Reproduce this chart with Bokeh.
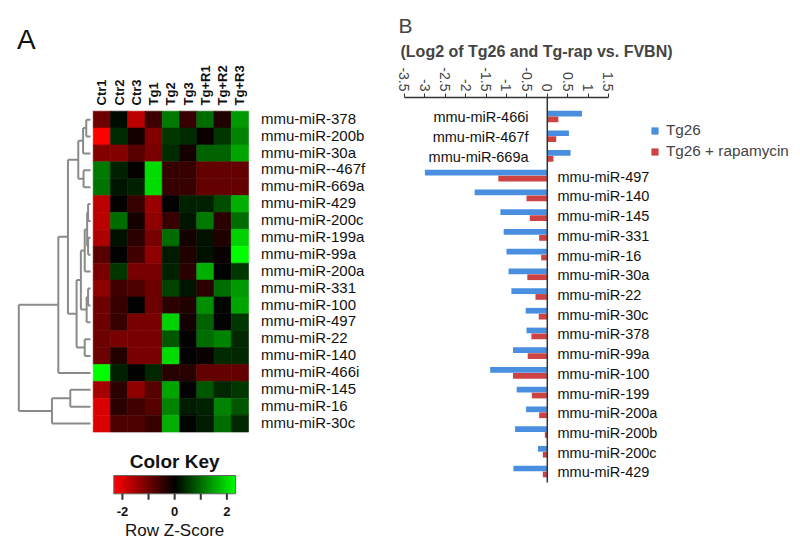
import numpy as np
from bokeh.plotting import figure
from bokeh.models import (Range1d, LinearColorMapper, LinearAxis, FixedTicker, Title,
                          Legend, LegendItem, ColumnDataSource)
from bokeh.transform import transform
from bokeh.layouts import row, column
from bokeh.embed import file_html
from bokeh.resources import INLINE
from bokeh.core.properties import value

FONT = value("Liberation Sans")

# ---------------- data: heatmap (panel A) ----------------
samples = ["Ctr1", "Ctr2", "Ctr3", "Tg1", "Tg2", "Tg3", "Tg+R1", "Tg+R2", "Tg+R3"]
heat_mirs = ["mmu-miR-378", "mmu-miR-200b", "mmu-miR-30a", "mmu-miR--467f", "mmu-miR-669a",
             "mmu-miR-429", "mmu-miR-200c", "mmu-miR-199a", "mmu-miR-99a", "mmu-miR-200a",
             "mmu-miR-331", "mmu-miR-100", "mmu-miR-497", "mmu-miR-22", "mmu-miR-140",
             "mmu-miR-466i", "mmu-miR-145", "mmu-miR-16", "mmu-miR-30c"]
z_378 = [-1.0, 0.1, -1.7, -0.55, 1.1, -0.5, 1.0, -0.3, 1.4]
z_200b = [-2.3, 0.4, -0.2, -1.2, 0.5, 0.4, -0.1, 0.5, 1.2]
z_30a = [-1.2, -1.2, -0.8, -1.1, 0.4, -0.2, 0.9, 0.9, 1.5]
z_467f = [1.1, 0.3, -0.05, 2.0, -0.5, -0.5, -0.9, -0.9, -0.9]
z_669a = [1.05, 0.2, 0.3, 2.0, -0.5, -0.5, -0.9, -0.9, -0.9]
z_429 = [-1.7, -0.05, -0.5, -1.4, 0.0, 0.3, 0.3, 0.7, 1.6]
z_200c = [-1.7, 1.0, -0.2, -1.3, -0.5, 0.2, 1.1, -0.4, 1.0]
z_199a = [-1.6, 0.15, -0.4, -1.1, 1.0, -0.2, 0.15, -0.3, 1.9]
z_99a = [-0.8, 0.0, -0.6, -1.3, 0.25, -0.3, 0.15, -0.1, 2.3]
z_200a = [-1.1, 0.5, -1.1, -1.1, 0.3, -0.4, 1.6, 0.0, 0.5]
z_331 = [-1.3, -0.6, -0.7, -1.0, 0.6, 0.2, -0.4, 1.0, 1.4]
z_100 = [-1.0, -0.5, 0.0, -1.0, -0.4, -0.3, 1.3, 0.05, 1.5]
z_497 = [-1.0, -0.5, -1.1, -1.1, 1.9, -0.2, 0.9, 0.0, 0.5]
z_22 = [-1.0, -1.1, -1.1, -1.1, 0.8, 0.0, 1.0, 1.2, 0.35]
z_140 = [-1.0, -0.3, -1.1, -1.1, 2.0, 0.0, -0.1, 0.4, 0.35]
z_466i = [2.3, 0.3, 0.0, 0.35, -0.35, -0.35, -0.9, -0.9, -0.9]
z_145 = [-1.5, -0.4, -1.3, -0.8, 1.5, 0.0, 0.8, 0.35, 0.5]
z_16 = [-2.0, -0.4, -0.6, -0.8, 1.2, 0.25, 0.3, 1.2, 0.8]
z_30c = [-2.0, -0.7, -0.7, -0.5, 1.6, 0.05, 0.25, 1.0, 0.35]
zscores = [z_378, z_200b, z_30a, z_467f, z_669a, z_429, z_200c, z_199a, z_99a, z_200a,
           z_331, z_100, z_497, z_22, z_140, z_466i, z_145, z_16, z_30c]

# dendrogram merges: (left, right, height)
dendro_merges = [
    ("mmu-miR-378", "mmu-miR-200b", 4.4),     # n0
    ("n0", "mmu-miR-30a", 7.7),               # n1
    ("mmu-miR--467f", "mmu-miR-669a", 7.2),   # n2
    ("n1", "n2", 12.7),                       # n3
    ("mmu-miR-429", "mmu-miR-200c", 2.5),     # n4
    ("mmu-miR-199a", "mmu-miR-99a", 2.5),     # n5
    ("n4", "n5", 3.5),                        # n6
    ("n6", "mmu-miR-200a", 6.0),              # n7
    ("mmu-miR-331", "mmu-miR-100", 2.5),      # n8
    ("n8", "mmu-miR-497", 4.0),               # n9
    ("n7", "n9", 10.0),                       # n10
    ("mmu-miR-22", "mmu-miR-140", 6.0),       # n11
    ("n10", "n11", 14.4),                     # n12
    ("n3", "n12", 23.4),                      # n13
    ("n13", "mmu-miR-466i", 33.4),            # n14
    ("mmu-miR-145", "mmu-miR-16", 21.0),      # n15
    ("n15", "mmu-miR-30c", 40.0),             # n16
    ("n14", "n16", 74.4),                     # n17
]

key_low, key_high = -2.33, 2.33
key_ticks = [-2, -1, 0, 1, 2]
key_tick_labels = ["-2", "", "0", "", "2"]

# ---------------- data: bar chart (panel B) ----------------
bar_mirs = ["mmu-miR-466i", "mmu-miR-467f", "mmu-miR-669a", "mmu-miR-497", "mmu-miR-140",
            "mmu-miR-145", "mmu-miR-331", "mmu-miR-16", "mmu-miR-30a", "mmu-miR-22",
            "mmu-miR-30c", "mmu-miR-378", "mmu-miR-99a", "mmu-miR-100", "mmu-miR-199",
            "mmu-miR-200a", "mmu-miR-200b", "mmu-miR-200c", "mmu-miR-429"]
tg26 = [0.85, 0.53, 0.57, -3.0, -1.78, -1.15, -1.07, -1.0, -0.95, -0.88,
        -0.53, -0.51, -0.84, -1.4, -0.75, -0.52, -0.79, -0.23, -0.83]
tg26_rap = [0.27, 0.22, 0.15, -1.2, -0.51, -0.43, -0.2, -0.15, -0.49, -0.29,
            -0.21, -0.39, -0.48, -0.84, -0.38, -0.2, -0.06, -0.11, -0.11]
bar_ticks = [-3.5, -3, -2.5, -2, -1.5, -1, -0.5, 0, 0.5, 1, 1.5]
bar_tick_labels = ["-3.5", "-3", "-2.5", "-2", "-1.5", "-1", "-0.5", "0", "0.5", "1", "1.5"]

# ---------------- colour map ----------------
t = np.linspace(-1, 1, 256)
palette = []
for v in t:
    if v < 0:
        palette.append("#%02x%02x%02x" % (int(round(-v * 255)), 0, 0))
    else:
        palette.append("#%02x%02x%02x" % (0, int(round(v * 255)), 0))
mapper = LinearColorMapper(palette=palette, low=key_low, high=key_high)

# ---------------- Panel A : heatmap + dendrogram ----------------
H = figure(width=392, height=440, x_range=Range1d(-5.371, 17.34), y_range=Range1d(19.50, -6.554),
           output_backend="svg", toolbar_location=None, x_axis_location=None, y_axis_location=None,
           min_border=0)
H.grid.visible = False
H.outline_line_color = None

nr, nc = len(heat_mirs), len(samples)
xs, ys, zs = [], [], []
for i in range(nr):
    for j in range(nc):
        xs.append(j + 0.5)
        ys.append(i + 0.5)
        zs.append(zscores[i][j])
src = ColumnDataSource(dict(x=xs, y=ys, z=zs))
H.rect(x="x", y="y", width=1, height=1, source=src, fill_color=transform("z", mapper),
       line_color=transform("z", mapper), line_width=0.6)

# row labels
H.text(x=[nc + 0.72] * nr, y=[i + 0.42 for i in range(nr)], text=heat_mirs, text_font=FONT,
       text_font_size="15px", text_baseline="middle", text_align="left", text_color="#111111")
# column labels
H.text(x=[j + 0.5 for j in range(nc)], y=[-0.34] * nc, text=samples, text_font=FONT,
       text_font_size="13px", text_font_style="bold", angle=np.pi / 2, text_baseline="middle",
       text_align="left", text_color="#111111")
# panel letter
H.text(x=[-4.42], y=[-4.23], text=["A"], text_font=FONT, text_font_size="28px",
       text_baseline="alphabetic", text_align="left", text_color="#111111")

# dendrogram
cell_px = 17.26
gap = 2.7 / cell_px
hscale = (74.4 - 2.7) / 74.4 / cell_px
pos = {m: (0.0, i + 0.5) for i, m in enumerate(heat_mirs)}
x0s, y0s, x1s, y1s = [], [], [], []
for k, (a, b, h) in enumerate(dendro_merges):
    ha, ya = pos[a]
    hb, yb = pos[b]
    for hc, yc in ((ha, ya), (hb, yb)):
        x0s.append(-(gap + hc * hscale)); y0s.append(yc)
        x1s.append(-(gap + h * hscale)); y1s.append(yc)
    x0s.append(-(gap + h * hscale)); y0s.append(ya)
    x1s.append(-(gap + h * hscale)); y1s.append(yb)
    pos["n%d" % k] = (h, (ya + yb) / 2)
H.segment(x0=x0s, y0=y0s, x1=x1s, y1=y1s, line_color="#8a8a8a", line_width=2)

# ---------------- Color key (full-frame figure, aligned with H) ----------------
K = figure(width=392, height=113, x_range=Range1d(-6.667, 8.340), y_range=Range1d(-3.262, 2.913),
           output_backend="svg", toolbar_location=None, x_axis_location=None, y_axis_location=None,
           min_border=0)
K.grid.visible = False
K.outline_line_color = None
K.image(image=[np.linspace(key_low, key_high, 256).reshape(1, -1)], x=key_low, y=0,
        dw=key_high - key_low, dh=1, color_mapper=mapper)
K.quad(left=[key_low], right=[key_high], bottom=[0], top=[1], fill_color=None,
       line_color="#666666", line_width=1)
K.segment(x0=key_ticks, y0=[0] * len(key_ticks), x1=key_ticks, y1=[-0.33] * len(key_ticks),
          line_color="#333333", line_width=2)
K.text(x=key_ticks, y=[-0.96] * len(key_ticks), text=key_tick_labels, text_font=FONT,
       text_font_size="13px", text_font_style="bold", text_align="center",
       text_baseline="middle", text_color="#111111")
K.text(x=[0], y=[1.74], text=["Color Key"], text_font=FONT, text_font_size="19px",
       text_font_style="bold", text_align="center", text_baseline="middle", text_color="#111111")
K.text(x=[0], y=[-2.03], text=["Row Z-Score"], text_font=FONT, text_font_size="17px",
       text_align="center", text_baseline="middle", text_color="#111111")

# ---------------- Panel B : bar chart ----------------
B = figure(width=408, height=553, x_range=Range1d(-3.794, 6.206), y_range=Range1d(22.16, -0.963),
           output_backend="svg", toolbar_location=None, x_axis_location=None, y_axis_location=None,
           min_border_left=0, min_border_right=0, min_border_top=97, min_border_bottom=0,
           title="B")
B.grid.visible = False
B.outline_line_color = None
B.title.text_font = "Liberation Sans"
B.title.text_font_size = "21px"
B.title.text_font_style = "normal"
B.title.align = "left"
B.title.offset = 6
B.title.standoff = 0

bax = LinearAxis(ticker=FixedTicker(ticks=bar_ticks),
                 major_label_overrides=dict(zip(bar_ticks, bar_tick_labels)),
                 bounds=(bar_ticks[0], bar_ticks[-1]))
bax.major_label_orientation = -np.pi / 2
bax.major_label_text_font = "Liberation Sans"
bax.major_label_text_font_size = "14px"
bax.major_label_standoff = 2
bax.major_tick_out = 4
bax.major_tick_in = 0
bax.minor_tick_line_color = None
bax.axis_line_color = "#333333"
bax.axis_line_width = 1.5
bax.major_tick_line_color = "#333333"
B.add_layout(bax, "above")
B.add_layout(Title(text="(Log2 of Tg26 and Tg-rap vs. FVBN)", align="left", offset=8,
                   text_font="Liberation Sans", text_font_size="16px", text_font_style="bold",
                   standoff=9), "above")

n = len(bar_mirs)
idx = np.arange(n)
bsrc = ColumnDataSource(dict(y1=idx - 0.15, y2=idx + 0.15, tg=tg26, rap=tg26_rap))
r1 = B.hbar(y="y1", left=0, right="tg", height=0.29, source=bsrc, fill_color="#4a8fdf",
            line_color=None)
r2 = B.hbar(y="y2", left=0, right="rap", height=0.29, source=bsrc, fill_color="#cd4343",
            line_color=None)
B.segment(x0=[0], y0=[-0.963], x1=[0], y1=[n - 1 + 0.56], line_color="#333333", line_width=1.5)

lab_x = np.where(np.array(tg26) > 0, -0.46, 0.25)
lab_align = ["right" if v > 0 else "left" for v in tg26]
B.text(x=lab_x, y=idx + 0.05, text=bar_mirs, text_align=lab_align, text_baseline="middle",
       text_font=FONT, text_font_size="14.5px", text_color="#111111")

legend = Legend(items=[LegendItem(label="Tg26", renderers=[r1]),
                       LegendItem(label="Tg26 + rapamycin", renderers=[r2])],
                location=(258, 392))
legend.glyph_width = 9
legend.glyph_height = 9
legend.label_standoff = 7
legend.label_height = 20
legend.spacing = 1
legend.padding = 0
legend.margin = 0
legend.border_line_color = None
legend.background_fill_alpha = 0
legend.label_text_font = "Liberation Sans"
legend.label_text_font_size = "15.3px"
B.add_layout(legend)

layout = row(column(H, K), B)
open("out.html", "w").write(file_html(layout, INLINE))
